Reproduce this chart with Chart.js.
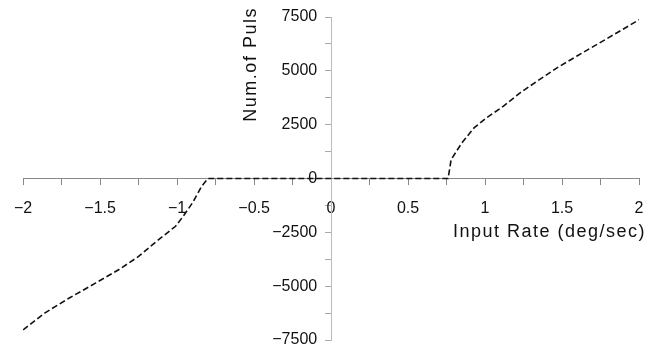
<!DOCTYPE html>
<html>
<head>
<meta charset="utf-8">
<script src="https://cdn.jsdelivr.net/npm/chart.js@4/dist/chart.umd.min.js"></script>
<style>
  html, body { margin: 0; padding: 0; background: #fff; }
  #wrap { width: 660px; height: 356px; }
</style>
</head>
<body>
<div id="wrap"><canvas id="rateChart" width="660" height="356"></canvas></div>
<script>
// input rate (deg/sec) and pulse counts
const inputRate = [-2, -1.86, -1.7, -1.53, -1.38, -1.25, -1.12, -1.01, -0.96, -0.9, -0.84, -0.8,
                   0.76, 0.78, 0.85, 0.93, 1.01, 1.12, 1.23, 1.34, 1.47, 1.6, 1.73, 1.86, 2];
const pulses = [-7030, -6250, -5550, -4860, -4240, -3620, -2840, -2220, -1750, -1130, -360, 0,
                0, 880, 1660, 2360, 2820, 3360, 3990, 4530, 5150, 5700, 6240, 6780, 7370];
const xTicks = [-2, -1.5, -1, -0.5, 0, 0.5, 1, 1.5, 2];
const yTicks = [-7500, -5000, -2500, 0, 2500, 5000, 7500];
const xTitle = 'Input Rate (deg/sec)';
const yTitle = 'Num.of Puls';

const minus = v => String(v).replace('-', '\u2212');
const font = { family: '"Liberation Sans", Arial, sans-serif', size: 16 };

const titles = {
  id: 'titles',
  afterDraw(chart) {
    const { ctx, scales: { x, y } } = chart;
    ctx.save();
    ctx.fillStyle = '#111';
    ctx.font = '18px "Liberation Sans", Arial, sans-serif';
    ctx.letterSpacing = '1.5px';
    ctx.textBaseline = 'middle';
    ctx.textAlign = 'right';
    ctx.fillText(xTitle, x.getPixelForValue(2) + 7, y.getPixelForValue(-2500));
    ctx.translate(x.getPixelForValue(-0.52), y.getPixelForValue(5300));
    ctx.rotate(-Math.PI / 2);
    ctx.textAlign = 'center';
    ctx.fillText(yTitle, 0, 0);
    ctx.restore();
  }
};

new Chart(document.getElementById('rateChart'), {
  type: 'scatter',
  data: {
    datasets: [{
      data: inputRate.map((v, i) => ({ x: v, y: pulses[i] })),
      showLine: true,
      borderColor: '#111',
      borderWidth: 1.6,
      borderDash: [6, 3],
      pointRadius: 0,
      tension: 0
    }]
  },
  options: {
    responsive: false,
    animation: false,
    layout: { padding: { left: 21, right: 21, top: 17, bottom: 16 } },
    plugins: { legend: { display: false }, tooltip: { enabled: false } },
    scales: {
      x: {
        type: 'linear',
        position: { y: 0 },
        min: -2, max: 2,
        afterFit: s => { s.height = 0; },
        afterBuildTicks: s => {
          s.ticks = [];
          for (let v = -2; v <= 2.001; v += 0.25) s.ticks.push({ value: +v.toFixed(2) });
        },
        grid: { drawOnChartArea: false, color: '#888', tickLength: 6 },
        border: { color: '#888' },
        ticks: {
          autoSkip: false, maxRotation: 0, padding: 14, color: '#111', font,
          callback: v => xTicks.includes(v) ? minus(v) : ''
        }
      },
      y: {
        type: 'linear',
        position: { x: 0 },
        min: -7500, max: 7500,
        afterFit: s => { s.width = 0; },
        afterBuildTicks: s => {
          s.ticks = [];
          for (let v = -7500; v <= 7500; v += 1250) s.ticks.push({ value: v });
        },
        grid: { drawOnChartArea: false, color: '#aaa', tickLength: 6 },
        border: { color: '#bbb' },
        ticks: { display: false }
      },
      // second copy of the y scale, only for the labels left of the axis
      yLabels: {
        type: 'linear',
        axis: 'y',
        position: { x: -0.09 },
        min: -7500, max: 7500,
        afterFit: s => { s.width = 0; },
        afterBuildTicks: s => { s.ticks = yTicks.map(v => ({ value: v })); },
        grid: { display: false },
        border: { display: false },
        ticks: { autoSkip: false, color: '#111', font, callback: v => minus(v) }
      }
    }
  },
  plugins: [titles]
});
</script>
</body>
</html>
